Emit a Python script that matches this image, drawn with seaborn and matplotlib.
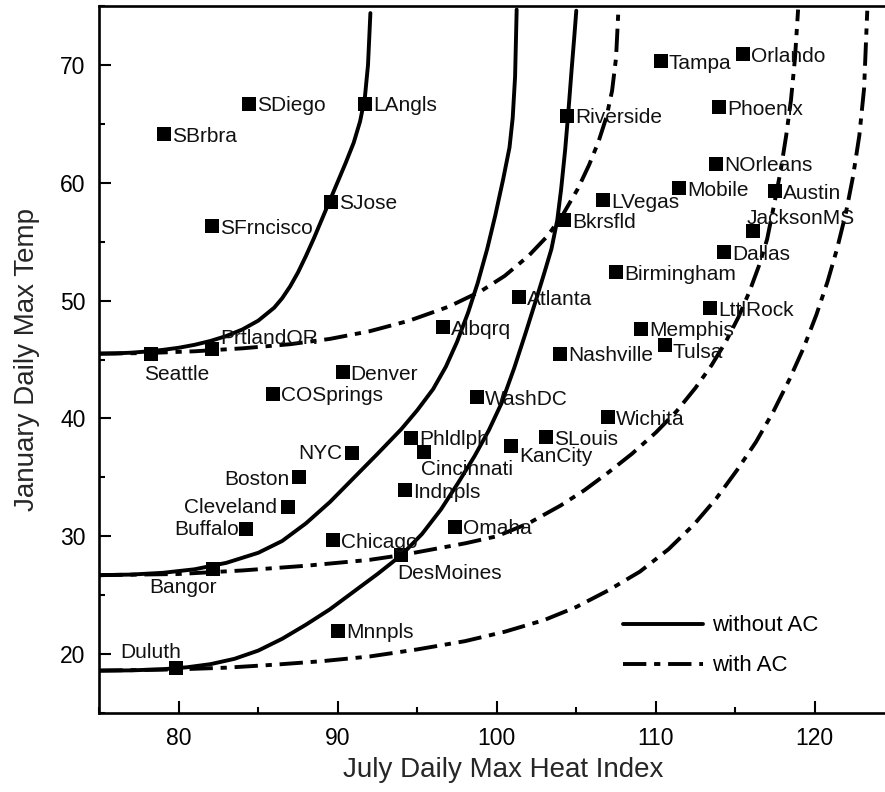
import matplotlib
matplotlib.use("Agg")
import matplotlib.pyplot as plt
import seaborn as sns
import pandas as pd
from matplotlib.lines import Line2D
from matplotlib.ticker import MultipleLocator

# city markers: July max heat index vs January max temperature
cities = ["SDiego", "LAngls", "SBrbra", "SJose", "SFrncisco", "Tampa", "Orlando",
          "Riverside", "Phoenix", "NOrleans", "Mobile", "Austin", "LVegas", "Bkrsfld",
          "JacksonMS", "Dallas", "Birmingham", "Atlanta", "LttlRock", "Memphis", "Tulsa",
          "Nashville", "Seattle", "PrtlandOR", "Albqrq", "Denver", "COSprings", "WashDC",
          "Wichita", "Phldlph", "NYC", "Cincinnati", "SLouis", "KanCity", "Boston",
          "Cleveland", "Indnpls", "Buffalo", "Omaha", "Chicago", "DesMoines", "Bangor",
          "Mnnpls", "Duluth"]
heat_index = [84.4, 91.7, 79.1, 89.55, 82.1, 110.3, 115.5,
              104.4, 114.0, 113.8, 111.45, 117.5, 106.7, 104.25,
              116.1, 114.3, 107.5, 101.4, 113.4, 109.1, 110.55,
              104.0, 78.25, 82.1, 96.6, 90.3, 85.95, 98.75,
              107.0, 94.6, 90.9, 95.4, 103.1, 100.9, 87.55,
              86.85, 94.2, 84.25, 97.35, 89.7, 94.0, 82.15,
              90.0, 79.8]
jan_temp = [66.7, 66.7, 64.1, 58.4, 56.3, 70.3, 70.9,
            65.7, 66.4, 61.6, 59.55, 59.3, 58.5, 56.8,
            55.9, 54.1, 52.4, 50.3, 49.35, 47.6, 46.2,
            45.5, 45.5, 45.9, 47.75, 43.9, 42.1, 41.8,
            40.1, 38.35, 37.1, 37.15, 38.4, 37.65, 35.0,
            32.5, 33.9, 30.65, 30.8, 29.65, 28.4, 27.25,
            22.0, 18.8]

# comfort boundary curves
noac_hi_x = [75, 76, 77, 78, 79, 80, 81, 82, 83, 84, 85, 86, 86.5, 87, 87.5, 88, 88.5,
             89, 89.5, 90, 90.5, 91, 91.4, 91.7, 91.9, 92.05]
noac_hi_y = [45.5, 45.52, 45.58, 45.68, 45.82, 46.0, 46.25, 46.58, 47.0, 47.55, 48.3, 49.4,
             50.2, 51.2, 52.4, 53.8, 55.3, 56.9, 58.5, 60.1, 61.7, 63.4, 65.2, 67.2, 70.0, 74.4]
noac_mid_x = [75, 77, 79, 81, 83, 85, 86.5, 88, 89.5, 91, 92.5, 94, 95, 96, 96.8, 97.5,
              98.2, 98.8, 99.4, 99.9, 100.4, 100.8, 101.0, 101.15, 101.25]
noac_mid_y = [26.7, 26.75, 26.9, 27.2, 27.75, 28.6, 29.6, 31.1, 32.9, 34.95, 37.0, 39.1,
              40.7, 42.5, 44.4, 46.5, 49.0, 51.5, 54.4, 57.2, 60.3, 63.0, 65.5, 69.0, 74.7]
noac_lo_x = [75, 77, 79, 80.5, 82, 83.5, 85, 86.5, 88, 89.5, 91, 92.5, 94, 95.3, 96.5,
             97.6, 98.6, 99.5, 100.3, 101.1, 101.8, 102.5, 103.0, 103.44, 103.8, 104.05,
             104.3, 104.5, 104.7, 104.88, 105.0]
noac_lo_y = [18.6, 18.62, 18.72, 18.88, 19.15, 19.6, 20.3, 21.3, 22.5, 23.8, 25.3, 26.8,
             28.4, 30.2, 32.3, 34.6, 36.8, 39.0, 41.3, 44.3, 47.2, 50.2, 52.4, 54.4, 56.8,
             59.5, 62.8, 66.0, 69.5, 72.5, 74.6]

ac_hi_x = [75, 78, 81, 84, 87, 89.5, 92, 94.5, 97, 99, 100.5, 102, 103.2, 104.2, 105.1,
           105.8, 106.4, 106.9, 107.25, 107.5, 107.65]
ac_hi_y = [45.5, 45.55, 45.7, 45.95, 46.3, 46.75, 47.4, 48.3, 49.5, 50.8, 52.1, 53.8,
           55.5, 57.4, 59.5, 61.5, 63.5, 65.6, 67.8, 70.6, 74.7]
ac_mid_x = [75, 80, 84, 88, 92, 94, 96, 98, 100, 102, 104, 105.5, 107, 108.5, 110,
            111.3, 112.5, 113.5, 114.4, 115.2, 115.9, 116.5, 117.0, 117.45, 117.85,
            118.2, 118.5, 118.75, 118.95]
ac_mid_y = [26.7, 26.8, 27.1, 27.5, 28.0, 28.4, 28.9, 29.4, 30.0, 31.1, 32.6, 33.9,
            35.4, 37.0, 38.8, 40.6, 42.6, 44.5, 46.5, 48.6, 50.8, 53.0, 55.2, 58.2, 61.0,
            64.0, 67.0, 70.5, 74.7]
ac_lo_x = [75, 79.8, 83, 86, 89, 92, 95, 98, 100.5, 103, 105, 107, 109, 110.8, 112.4,
           113.8, 115.1, 116.3, 117.4, 118.4, 119.3, 120.1, 120.8, 121.4, 121.95, 122.4,
           122.8, 123.1, 123.3]
ac_lo_y = [18.6, 18.7, 18.85, 19.1, 19.4, 19.8, 20.4, 21.1, 21.9, 22.9, 24.0, 25.4,
           27.0, 28.9, 31.0, 33.2, 35.6, 38.0, 40.6, 43.3, 46.0, 48.8, 51.6, 54.4, 57.4,
           60.5, 64.0, 68.0, 74.6]

curve_parts = []
for name, ac, xs, ys in [("noac_hi", "without AC", noac_hi_x, noac_hi_y),
                         ("noac_mid", "without AC", noac_mid_x, noac_mid_y),
                         ("noac_lo", "without AC", noac_lo_x, noac_lo_y),
                         ("ac_hi", "with AC", ac_hi_x, ac_hi_y),
                         ("ac_mid", "with AC", ac_mid_x, ac_mid_y),
                         ("ac_lo", "with AC", ac_lo_x, ac_lo_y)]:
    curve_parts.append(pd.DataFrame({"heat": xs, "temp": ys, "curve": name, "ac": ac}))
curve_df = pd.concat(curve_parts, ignore_index=True)

# label placement: (dx, dy in points, ha); default is right of the marker
label_pos = {
    "Seattle": (18.6, -13.8, "center"),
    "PrtlandOR": (5.5, 8.6, "left"),
    "NYC": (-6.7, 1.0, "right"),
    "Boston": (-6.7, 0.0, "right"),
    "Cleveland": (-7.5, 1.0, "right"),
    "Buffalo": (-5.5, 0.5, "right"),
    "Cincinnati": (-2.0, -10.8, "left"),
    "KanCity": (6.0, -5.9, "left"),
    "DesMoines": (-2.7, -11.7, "left"),
    "Bangor": (2.7, -12.2, "right"),
    "Duluth": (4.3, 13.0, "right"),
    "JacksonMS": (-4.3, 10.3, "left"),
    "Tulsa": (5.8, -3.6, "left"),
}

sns.set_style("ticks", {"axes.edgecolor": "black", "xtick.color": "black",
                        "ytick.color": "black", "text.color": "black"})
plt.rcParams["font.family"] = ["Liberation Sans", "DejaVu Sans"]

dash_dot = (6, 2, 1.6, 2)

fig = plt.figure(figsize=(8.85, 7.92), dpi=100)
ax = fig.add_axes([0.1122, 0.0997, 0.8983, 0.8927])

sns.lineplot(data=curve_df, x="heat", y="temp", units="curve", estimator=None, sort=False,
             style="ac", dashes={"without AC": "", "with AC": dash_dot},
             color="black", linewidth=2.8, legend=False, ax=ax)
sns.scatterplot(x=heat_index, y=jan_temp, marker="s", s=90, color="black",
                linewidth=0, zorder=3, ax=ax)

for name, hx, jt in zip(cities, heat_index, jan_temp):
    dx, dy, ha = label_pos.get(name, (5.8, 0.0, "left"))
    ax.annotate(name, (hx, jt), xytext=(dx, dy), textcoords="offset points",
                ha=ha, va="center_baseline", fontsize=15, color="#111111")

ax.set_xlim(75, 125)
ax.set_ylim(15, 75)
ax.set_xticks([80, 90, 100, 110, 120])
ax.set_yticks([20, 30, 40, 50, 60, 70])
ax.xaxis.set_minor_locator(MultipleLocator(5))
ax.yaxis.set_minor_locator(MultipleLocator(5))
ax.tick_params(which="both", direction="in", top=False, right=False, width=1.5)
ax.tick_params(which="major", length=8.6, pad=10, labelsize=16.5)
ax.tick_params(which="minor", length=4.3)
for side in ["left", "bottom", "top"]:
    ax.spines[side].set_linewidth(1.9)
ax.spines["right"].set_visible(False)

ax.set_xlabel("July Daily Max Heat Index", fontsize=20)
ax.set_ylabel("January Daily Max Temp", fontsize=20)
ax.xaxis.set_label_coords(0.508, -0.062)
ax.yaxis.set_label_coords(-0.074, 0.5)

handles = [Line2D([], [], color="black", lw=2.8),
           Line2D([], [], color="black", lw=2.8, dashes=dash_dot)]
ax.legend(handles, ["without AC", "with AC"], loc="upper left",
          bbox_to_anchor=(0.659, 0.138), frameon=False, fontsize=16,
          handlelength=3.6, handletextpad=0.4, labelspacing=0.85,
          borderpad=0, borderaxespad=0)

fig.savefig("out.png", dpi=100)
